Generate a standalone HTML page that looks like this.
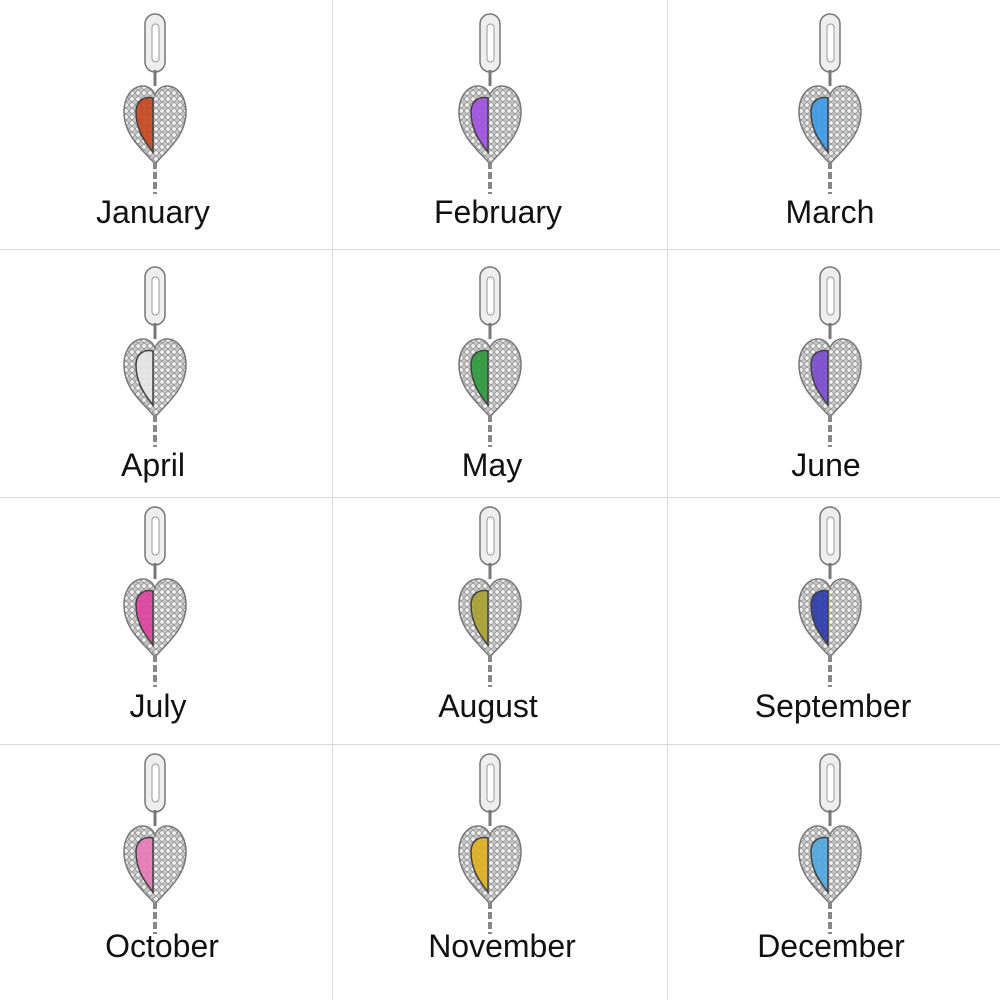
<!DOCTYPE html>
<html><head><meta charset="utf-8"><style>
html,body{margin:0;padding:0;background:#fff;}
#g{position:relative;width:1000px;height:1000px;overflow:hidden;font-family:"Liberation Sans",sans-serif;}
.vl{position:absolute;top:0;width:1px;height:1000px;background:#d8d8d8;}
.hl{position:absolute;left:0;height:1px;width:1000px;background:#d8d8d8;}
.c{position:absolute;width:100px;height:200px;}
.t{position:absolute;width:260px;text-align:center;font-size:32px;color:#111;line-height:36px;}
</style></head><body><div id="g">
<div class="vl" style="left:332px"></div><div class="vl" style="left:667px"></div>
<div class="hl" style="top:249px"></div><div class="hl" style="top:497px"></div><div class="hl" style="top:744px"></div>
<svg width="0" height="0" style="position:absolute"><defs>
<pattern id="dt" width="6" height="6" patternUnits="userSpaceOnUse"><rect width="6" height="6" fill="#c8c8c8"/><circle cx="3" cy="3" r="2.3" fill="#f0f0f0" stroke="#7a7a7a" stroke-width="0.6"/></pattern>
<g id="ch">
<rect x="40" y="2" width="20" height="58" rx="10" fill="#eee" stroke="#777" stroke-width="1.5"/>
<rect x="47" y="12" width="7" height="38" rx="3.5" fill="#fff" stroke="#999"/>
<line x1="50" y1="58" x2="50" y2="74" stroke="#777" stroke-width="3"/>
<path d="M50,152 C38,138 19,124 19,100 C19,84 28,74 38,74 C44,74 48,78 50,83 C52,78 56,74 62,74 C72,74 81,84 81,100 C81,124 62,138 50,152 Z" fill="url(#dt)" stroke="#777" stroke-width="1.5"/>
<path d="M50,150 L50,182" stroke="#888" stroke-width="4" stroke-dasharray="7 3"/>
</g></defs></svg>
<script>
var d=[["January","#c8461e",155,12,153,212],["February","#a050e0",490,12,498,212],["March","#3c9be8",830,12,830,212],
["April","#e8e8e8",155,265,153,465],["May","#2a9a3a",490,265,492,465],["June","#7a4ad0",830,265,826,465],
["July","#e040a0",155,505,158,706],["August","#a8a030",490,505,488,706],["September","#2a3aa8",830,505,833,706],
["October","#e87ab8",155,752,162,946],["November","#e0b020",490,752,502,946],["December","#50a8e0",830,752,831,946]];
var h="";
d.forEach(function(r){
h+='<svg class="c" style="left:'+(r[2]-50)+'px;top:'+r[3]+'px" viewBox="0 0 100 200"><use href="#ch"/><path d="M48,86 C40,84 31,88 31,100 C31,116 38,128 48,140 Z" fill="'+r[1]+'" stroke="#333" stroke-width="1.5" opacity="0.9"/></svg>';
h+='<div class="t" style="left:'+(r[4]-130)+'px;top:'+(r[5]-18)+'px">'+r[0]+'</div>';
});
document.getElementById("g").insertAdjacentHTML("beforeend",h);
</script>
</div></body></html>
